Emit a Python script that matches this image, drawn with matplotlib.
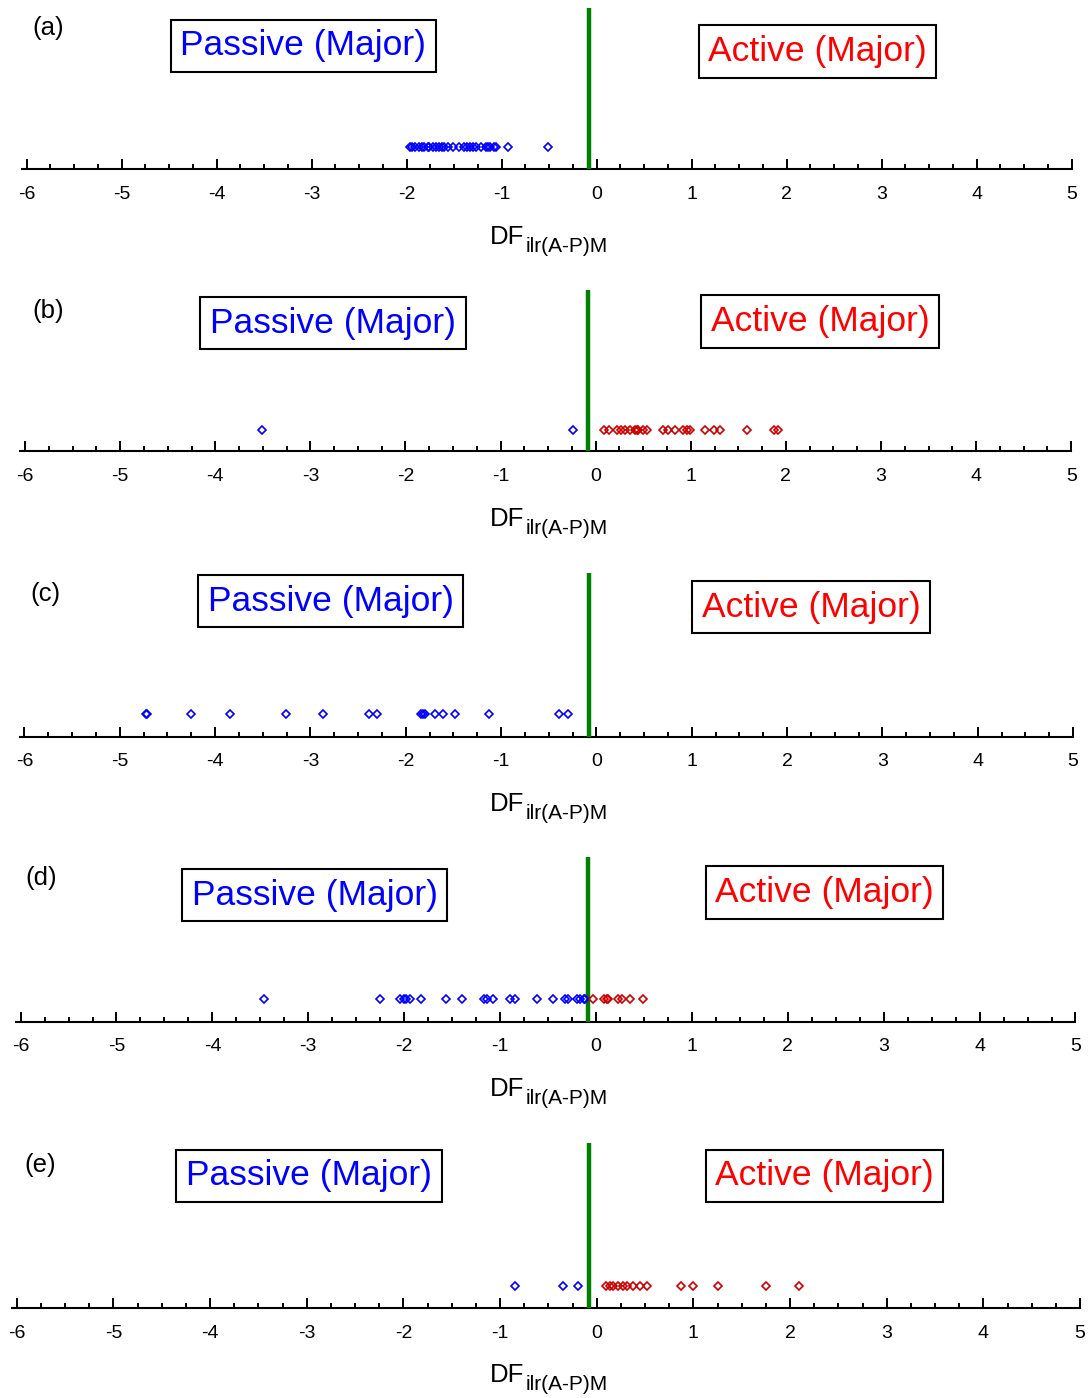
import matplotlib
matplotlib.use('Agg')
import matplotlib.pyplot as plt
from matplotlib.ticker import MultipleLocator

plt.rcParams['font.family'] = ['Liberation Sans', 'DejaVu Sans']

W, H = 1092, 1398

# discriminant function scores per panel
a_passive = [-1.97, -1.94, -1.91, -1.87, -1.84, -1.82, -1.78, -1.76, -1.72, -1.69,
             -1.66, -1.63, -1.61, -1.56, -1.51, -1.45, -1.40, -1.37, -1.33, -1.30,
             -1.27, -1.22, -1.17, -1.14, -1.12, -1.08, -1.06, -0.93, -0.51]
a_active = []
b_passive = [-3.51, -0.24]
b_active = [0.09, 0.14, 0.22, 0.27, 0.31, 0.36, 0.41, 0.43, 0.44, 0.50, 0.54, 0.71,
            0.76, 0.83, 0.92, 0.96, 0.99, 1.15, 1.24, 1.31, 1.59, 1.87, 1.92]
c_passive = [-4.73, -4.71, -4.25, -3.84, -3.26, -2.87, -2.39, -2.30, -1.84, -1.82,
             -1.80, -1.69, -1.61, -1.48, -1.13, -0.39, -0.30]
c_active = []
d_passive = [-3.46, -2.25, -2.04, -2.00, -1.98, -1.94, -1.82, -1.56, -1.40, -1.17,
             -1.14, -1.07, -0.90, -0.84, -0.62, -0.45, -0.32, -0.29, -0.20, -0.17,
             -0.13, -0.11]
d_active = [-0.03, 0.08, 0.11, 0.13, 0.23, 0.27, 0.35, 0.49]
e_passive = [-0.85, -0.35, -0.19]
e_active = [0.10, 0.14, 0.17, 0.22, 0.27, 0.31, 0.38, 0.45, 0.52, 0.87, 1.00,
            1.26, 1.75, 2.09]

labels = ['(a)', '(b)', '(c)', '(d)', '(e)']
passive = [a_passive, b_passive, c_passive, d_passive, e_passive]
active = [a_active, b_active, c_active, d_active, e_active]
cutoff = -0.08
xticks = [-6, -5, -4, -3, -2, -1, 0, 1, 2, 3, 4, 5]

# layout in pixels: axis line y, top of axes, x of -6, x of 5
geom = [(169, 8, 26.7, 1071.7),
        (451.5, 290, 25.1, 1071.2),
        (736.5, 573, 24.5, 1073),
        (1021.5, 857, 20.6, 1075.5),
        (1308, 1143, 16.7, 1080)]
lab_pos = [(48, 28), (48, 311), (45, 594), (41, 878), (40, 1165)]
pas_pos = [(303.5, 46), (333, 323), (330.5, 601), (314.5, 895), (309, 1176)]
act_pos = [(817.5, 51.5), (820, 321.5), (811, 607), (824.5, 892.5), (824.5, 1176)]

fig = plt.figure(figsize=(W / 100, H / 100), dpi=100)

def ftxt(px, py, s, **kw):
    fig.text(px / W, 1 - py / H, s, **kw)

for i in range(5):
    ay, top, x6, x5 = geom[i]
    u = (x5 - x6) / 11.0
    left = x6 - 0.05 * u
    ax = fig.add_axes([left / W, 1 - ay / H, (x5 - left) / W, (ay - top) / H])
    ax.set_xlim(-6.05, 5)
    ax.set_ylim(0, 1)
    for s in ['top', 'left', 'right']:
        ax.spines[s].set_visible(False)
    ax.spines['bottom'].set_linewidth(1.5)
    ax.set_yticks([])
    ax.set_xticks(xticks)
    ax.set_xticklabels([str(t) for t in xticks])
    ax.xaxis.set_minor_locator(MultipleLocator(0.25))
    ax.tick_params(axis='x', which='major', direction='in', length=7, width=1.4,
                   pad=12, labelsize=14)
    ax.tick_params(axis='x', which='minor', direction='in', length=3.5, width=1.4)
    ax.patch.set_alpha(0)

    ax.axvline(cutoff, color='#008000', lw=3.2, zorder=3)
    ym = 0.135
    if passive[i]:
        ax.plot(passive[i], [ym] * len(passive[i]), 'D', ms=4.3, mfc='none',
                mec='#0000FF', mew=1.2, clip_on=False, zorder=4)
    if active[i]:
        ax.plot(active[i], [ym] * len(active[i]), 'D', ms=4.3, mfc='none',
                mec='#CC0000', mew=1.2, clip_on=False, zorder=4)

    ftxt(lab_pos[i][0], lab_pos[i][1], labels[i], fontsize=18.5, ha='center', va='center')
    box = dict(boxstyle='square,pad=0.27', fc='white', ec='black', lw=1.5)
    ftxt(pas_pos[i][0], pas_pos[i][1], 'Passive (Major)', fontsize=25.5, color='#0000FF',
         ha='center', va='center', bbox=box)
    ftxt(act_pos[i][0], act_pos[i][1], 'Active (Major)', fontsize=25.5, color='#FF0000',
         ha='center', va='center', bbox=box)

    # x label DF with subscript
    ftxt(490, ay + 74.5, 'DF', fontsize=18.5, ha='left', va='baseline')
    ftxt(526, ay + 82.5, 'ilr(A-P)M', fontsize=15, ha='left', va='baseline')

fig.savefig('out.png', dpi=100)
